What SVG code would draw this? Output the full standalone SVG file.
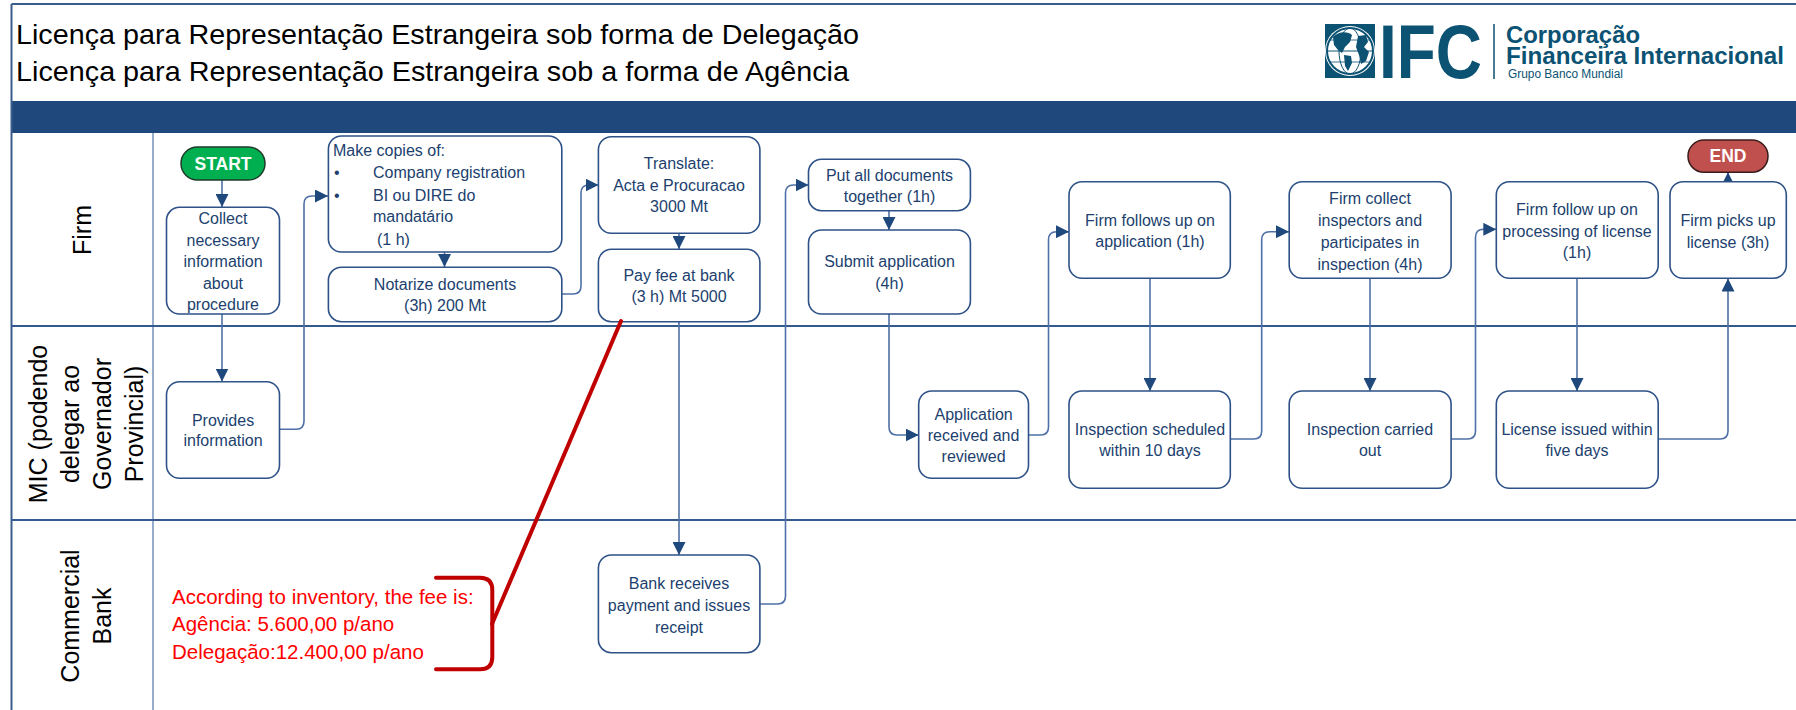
<svg xmlns="http://www.w3.org/2000/svg" width="1796" height="710" viewBox="0 0 1796 710">
<style>
.bg{fill:#ffffff}
.frame{stroke:#3A5E8C;stroke-width:2;fill:none}
.lane{stroke:#34598C;stroke-width:2;fill:none}
.col{stroke:#7D98C0;stroke-width:1.6;fill:none}
.box{fill:#ffffff;stroke:#2E5287;stroke-width:1.6}
.t{font-family:"Liberation Sans",Arial,sans-serif;font-size:16px;fill:#213F6E;text-anchor:middle}
.tl{font-family:"Liberation Sans",Arial,sans-serif;font-size:16px;fill:#213F6E}
.title{font-family:"Liberation Sans",Arial,sans-serif;font-size:28px;fill:#000000}
.lanet{font-family:"Liberation Sans",Arial,sans-serif;font-size:25px;fill:#000000;text-anchor:middle}
.pill{font-family:"Liberation Sans",Arial,sans-serif;font-size:17.5px;font-weight:bold;fill:#ffffff;text-anchor:middle}
.conn{fill:none;stroke:#4E70A6;stroke-width:1.6}
.red{font-family:"Liberation Sans",Arial,sans-serif;font-size:20.5px;fill:#FF0000}
.logo{font-family:"Liberation Sans",Arial,sans-serif;fill:#0B5273}
</style>
<defs>
<marker id="arr" markerUnits="userSpaceOnUse" markerWidth="13" markerHeight="13" refX="12" refY="6" orient="auto" viewBox="0 0 12 12">
<path d="M0,0 L12,6 L0,12 z" fill="#1F497D"/>
</marker>
</defs>
<rect class="bg" x="0" y="0" width="1796" height="710"/>

<g id="header">
<line class="frame" x1="11.5" y1="4" x2="1796" y2="4"/>
<text class="title" x="16" y="44" textLength="843" lengthAdjust="spacingAndGlyphs">Licença para Representação Estrangeira sob forma de Delegação</text>
<text class="title" x="16" y="81" textLength="833" lengthAdjust="spacingAndGlyphs">Licença para Representação Estrangeira sob a forma de Agência</text>
<rect x="11.5" y="101" width="1784.5" height="32" fill="#1F497D"/>
</g>

<g id="logo">
<rect x="1325" y="24" width="50" height="54" fill="#0B5273"/>
<circle cx="1350" cy="51" r="25" fill="#ffffff"/>
<circle cx="1350" cy="51" r="23" fill="none" stroke="#0B5273" stroke-width="2"/>
<ellipse cx="1350" cy="51" rx="11" ry="23" fill="none" stroke="#0B5273" stroke-width="1"/>
<line x1="1327" y1="51" x2="1373" y2="51" stroke="#0B5273" stroke-width="1"/>
<line x1="1330" y1="40" x2="1370" y2="40" stroke="#0B5273" stroke-width="0.8"/>
<line x1="1330" y1="62" x2="1370" y2="62" stroke="#0B5273" stroke-width="0.8"/>
<path d="M1333,37 C1338,31 1348,31 1352,35 L1350,42 L1345,47 L1342,53 L1338,50 L1334,45 Z" fill="#0B5273"/>
<path d="M1344,55 L1351,56 L1352,63 L1348,71 L1345,66 Z" fill="#0B5273"/>
<path d="M1358,36 L1366,35 L1368,42 L1364,47 L1369,52 L1366,61 L1361,64 L1359,55 L1356,47 Z" fill="#0B5273"/>
<text class="logo" transform="translate(1379,78) scale(1,1.18)" x="0" y="0" font-size="64" font-weight="bold">IFC</text>
<line x1="1494" y1="24" x2="1494" y2="79" stroke="#0B5273" stroke-width="1.5"/>
<text class="logo" x="1506" y="43" font-size="24.5" font-weight="bold" textLength="134" lengthAdjust="spacingAndGlyphs">Corporação</text>
<text class="logo" x="1506" y="64" font-size="24.5" font-weight="bold" textLength="278" lengthAdjust="spacingAndGlyphs">Financeira Internacional</text>
<text class="logo" x="1508" y="78" font-size="12" textLength="115" lengthAdjust="spacingAndGlyphs">Grupo Banco Mundial</text>
</g>

<g id="lanes">
<line class="frame" x1="11.5" y1="4" x2="11.5" y2="710"/>
<line class="col" x1="153" y1="133" x2="153" y2="710"/>
<line class="lane" x1="11.5" y1="326" x2="1796" y2="326"/>
<line class="lane" x1="11.5" y1="520" x2="1796" y2="520"/>
<text class="lanet" transform="rotate(-90)" x="-230" y="91">Firm</text>
<text class="lanet" transform="rotate(-90)" x="-424" y="47">MIC (podendo</text>
<text class="lanet" transform="rotate(-90)" x="-424" y="79">delegar ao</text>
<text class="lanet" transform="rotate(-90)" x="-424" y="111">Governador</text>
<text class="lanet" transform="rotate(-90)" x="-424" y="143">Provincial)</text>
<text class="lanet" transform="rotate(-90)" x="-616" y="79">Commercial</text>
<text class="lanet" transform="rotate(-90)" x="-616" y="111">Bank</text>
</g>

<g id="connectors">
<path class="conn" marker-end="url(#arr)" d="M222,180 V207"/>
<path class="conn" marker-end="url(#arr)" d="M222,314 V381.5"/>
<path class="conn" marker-end="url(#arr)" d="M279.5,429.3 H296 Q304,429.3 304,421 V204 Q304,196 312,196 H328"/>
<path class="conn" marker-end="url(#arr)" d="M444.5,252 V267"/>
<path class="conn" marker-end="url(#arr)" d="M562,294 H573 Q581,294 581,286 V193 Q581,185 589,185 H598.5"/>
<path class="conn" marker-end="url(#arr)" d="M679,233.3 V249"/>
<path class="conn" marker-end="url(#arr)" d="M679,321.7 V555"/>
<path class="conn" marker-end="url(#arr)" d="M760,604 H777.5 Q785.5,604 785.5,596 V193 Q785.5,185 793.5,185 H808.5"/>
<path class="conn" marker-end="url(#arr)" d="M889,210.7 V230"/>
<path class="conn" marker-end="url(#arr)" d="M889,314 V427 Q889,435 897,435 H918.7"/>
<path class="conn" marker-end="url(#arr)" d="M1028.5,435 H1040.5 Q1048.5,435 1048.5,427 V239.7 Q1048.5,231.7 1056.5,231.7 H1069"/>
<path class="conn" marker-end="url(#arr)" d="M1150,278.3 V391"/>
<path class="conn" marker-end="url(#arr)" d="M1230.3,439 H1253.7 Q1261.7,439 1261.7,431 V239.7 Q1261.7,231.7 1269.7,231.7 H1289"/>
<path class="conn" marker-end="url(#arr)" d="M1370,278.3 V391"/>
<path class="conn" marker-end="url(#arr)" d="M1451,439 H1467.5 Q1475.5,439 1475.5,431 V237.3 Q1475.5,229.3 1483.5,229.3 H1496.3"/>
<path class="conn" marker-end="url(#arr)" d="M1577,278.3 V391"/>
<path class="conn" marker-end="url(#arr)" d="M1658,439 H1720 Q1728,439 1728,431 V278.5"/>
<path class="conn" marker-end="url(#arr)" d="M1728,181.7 V172.3"/>
</g>

<g id="start">
<rect x="181" y="147" width="84" height="33" rx="16.5" fill="#00B050" stroke="#1E3A28" stroke-width="1.5"/>
<text class="pill" x="223" y="169.5">START</text>
</g>
<g id="end">
<rect x="1688" y="140" width="80" height="32.3" rx="16" fill="#C0504D" stroke="#3A1C1B" stroke-width="1.5"/>
<text class="pill" x="1728" y="161.5">END</text>
</g>

<g id="collect">
<rect class="box" x="166.5" y="207.3" width="113" height="106.7" rx="13"/>
<text class="t" x="223" y="224">Collect</text>
<text class="t" x="223" y="245.5">necessary</text>
<text class="t" x="223" y="267">information</text>
<text class="t" x="223" y="288.5">about</text>
<text class="t" x="223" y="310">procedure</text>
</g>
<g id="make-copies">
<rect class="box" x="328.4" y="136" width="233.4" height="116" rx="13"/>
<text class="tl" x="333" y="156">Make copies of:</text>
<text class="tl" x="334" y="178">•</text>
<text class="tl" x="373" y="178">Company registration</text>
<text class="tl" x="334" y="200.5">•</text>
<text class="tl" x="373" y="200.5">BI ou DIRE do</text>
<text class="tl" x="373" y="222">mandatário</text>
<text class="tl" x="377" y="244.5">(1 h)</text>
</g>
<g id="notarize">
<rect class="box" x="328.4" y="267.3" width="233.4" height="54.4" rx="13"/>
<text class="t" x="445" y="289.5">Notarize documents</text>
<text class="t" x="445" y="311">(3h) 200 Mt</text>
</g>
<g id="provides">
<rect class="box" x="166.5" y="381.7" width="113" height="96.6" rx="13"/>
<text class="t" x="223" y="425.5">Provides</text>
<text class="t" x="223" y="446">information</text>
</g>
<g id="translate">
<rect class="box" x="598.4" y="136.7" width="161.5" height="96.6" rx="13"/>
<text class="t" x="679" y="169">Translate:</text>
<text class="t" x="679" y="190.5">Acta e Procuracao</text>
<text class="t" x="679" y="212">3000 Mt</text>
</g>
<g id="pay-fee">
<rect class="box" x="598.4" y="249.3" width="161.5" height="72.4" rx="13"/>
<text class="t" x="679" y="280.5">Pay fee at bank</text>
<text class="t" x="679" y="302">(3 h) Mt 5000</text>
</g>
<g id="bank-receives">
<rect class="box" x="598.4" y="555" width="161.5" height="97.7" rx="13"/>
<text class="t" x="679" y="589">Bank receives</text>
<text class="t" x="679" y="611">payment and issues</text>
<text class="t" x="679" y="633">receipt</text>
</g>
<g id="put-all">
<rect class="box" x="808.5" y="159.3" width="161.9" height="51.4" rx="13"/>
<text class="t" x="889.5" y="180.5">Put all documents</text>
<text class="t" x="889.5" y="201.5">together (1h)</text>
</g>
<g id="submit">
<rect class="box" x="808.5" y="230" width="161.9" height="84" rx="13"/>
<text class="t" x="889.5" y="267">Submit application</text>
<text class="t" x="889.5" y="289">(4h)</text>
</g>
<g id="application">
<rect class="box" x="918.7" y="391" width="109.8" height="87.3" rx="13"/>
<text class="t" x="973.6" y="420">Application</text>
<text class="t" x="973.6" y="440.5">received and</text>
<text class="t" x="973.6" y="462">reviewed</text>
</g>
<g id="firm-follows">
<rect class="box" x="1069" y="181.7" width="161.3" height="96.6" rx="13"/>
<text class="t" x="1150" y="225.5">Firm follows up on</text>
<text class="t" x="1150" y="247">application (1h)</text>
</g>
<g id="inspection-scheduled">
<rect class="box" x="1069" y="391" width="161.3" height="97.3" rx="13"/>
<text class="t" x="1150" y="435">Inspection scheduled</text>
<text class="t" x="1150" y="456">within 10 days</text>
</g>
<g id="firm-collect">
<rect class="box" x="1289.2" y="181.7" width="161.9" height="96.6" rx="13"/>
<text class="t" x="1370" y="204">Firm collect</text>
<text class="t" x="1370" y="225.5">inspectors and</text>
<text class="t" x="1370" y="247.5">participates in</text>
<text class="t" x="1370" y="269.5">inspection (4h)</text>
</g>
<g id="inspection-carried">
<rect class="box" x="1289.2" y="391" width="161.9" height="97.3" rx="13"/>
<text class="t" x="1370" y="435">Inspection carried</text>
<text class="t" x="1370" y="456">out</text>
</g>
<g id="firm-follow-up">
<rect class="box" x="1496.3" y="181.7" width="161.9" height="96.6" rx="13"/>
<text class="t" x="1577" y="215">Firm follow up on</text>
<text class="t" x="1577" y="236.5">processing of license</text>
<text class="t" x="1577" y="258">(1h)</text>
</g>
<g id="license-issued">
<rect class="box" x="1496.3" y="391" width="161.9" height="97.3" rx="13"/>
<text class="t" x="1577" y="435">License issued within</text>
<text class="t" x="1577" y="456">five days</text>
</g>
<g id="firm-picks">
<rect class="box" x="1670" y="181.7" width="116.3" height="96.6" rx="13"/>
<text class="t" x="1728" y="225.5">Firm picks up</text>
<text class="t" x="1728" y="247.5">license (3h)</text>
</g>

<g id="fee-note">
<path d="M621,321 L492,624" fill="none" stroke="#C00000" stroke-width="4" stroke-linecap="round"/>
<path d="M436,577.7 H480 Q492.3,577.7 492.3,590 V657 Q492.3,669.3 480,669.3 H436" fill="none" stroke="#C00000" stroke-width="4" stroke-linecap="round"/>
<text class="red" x="172" y="604">According to inventory, the fee is:</text>
<text class="red" x="172" y="631">Agência: 5.600,00 p/ano</text>
<text class="red" x="172" y="659">Delegação:12.400,00 p/ano</text>
</g>
</svg>
